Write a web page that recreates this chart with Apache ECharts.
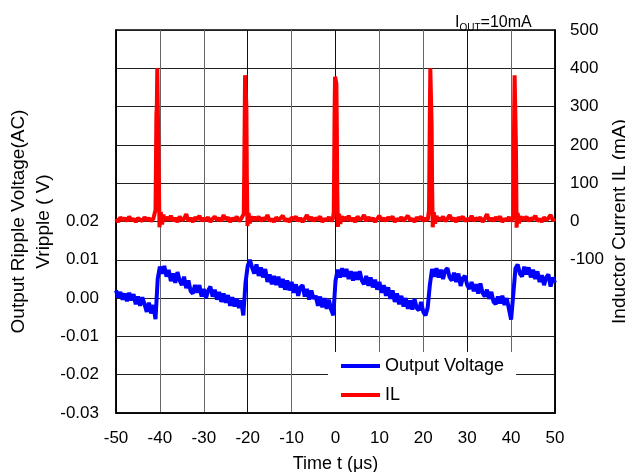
<!DOCTYPE html>
<html>
<head>
<meta charset="utf-8">
<script src="https://cdn.jsdelivr.net/npm/echarts@6/dist/echarts.min.js"></script>
<style>
  html, body { margin: 0; padding: 0; background: #fff; }
  #main { width: 625px; height: 472px; }
</style>
</head>
<body>
<div id="main"></div>
<script>
// time (µs), ripple voltage (V)
var vout = [
  [-50,0.0020],[-49.5,0.0002],[-49,0.0016],[-48.5,-0.0004],[-48,0.0012],[-47.5,-0.0008],[-47,0.0014],[-46.5,-0.0006],[-46,0.0010],[-45.5,-0.0016],
  [-45,0.0004],[-44.5,-0.0020],[-44,0.0002],[-43.5,-0.0016],[-43,-0.0036],[-42.5,-0.0012],[-42,-0.0040],[-41.5,-0.0018],[-41,-0.0055],[-40.5,0.0050],
  [-40,0.0082],[-39.5,0.0064],[-39,0.0084],[-38.5,0.0056],[-38,0.0074],[-37.5,0.0044],[-37,0.0064],[-36.5,0.0040],[-36,0.0068],[-35.5,0.0046],
  [-35,0.0034],[-34.5,0.0056],[-34,0.0026],[-33.5,0.0046],[-33,0.0018],[-32.5,0.0012],[-32,0.0034],[-31.5,0.0014],[-31,0.0034],[-30.5,0.0004],
  [-30,0.0024],[-29.5,0.0000],[-29,0.0020],[-28.5,0.0030],[-28,0.0004],[-27.5,0.0022],[-27,-0.0004],[-26.5,0.0016],[-26,-0.0010],[-25.5,0.0012],
  [-25,-0.0012],[-24.5,0.0008],[-24,-0.0020],[-23.5,0.0002],[-23,-0.0022],[-22.5,-0.0002],[-22,-0.0026],[-21.5,-0.0006],[-21,-0.0045],[-20.5,0.0040],
  [-20,0.0084],[-19.5,0.0100],[-19,0.0080],[-18.5,0.0064],[-18,0.0088],[-17.5,0.0058],[-17,0.0080],[-16.5,0.0054],[-16,0.0076],[-15.5,0.0042],
  [-15,0.0062],[-14.5,0.0036],[-14,0.0058],[-13.5,0.0034],[-13,0.0056],[-12.5,0.0028],[-12,0.0050],[-11.5,0.0022],[-11,0.0046],[-10.5,0.0020],
  [-10,0.0042],[-9.5,0.0014],[-9,0.0036],[-8.5,0.0006],[-8,0.0028],[-7.5,0.0034],[-7,0.0004],[-6.5,0.0024],[-6,-0.0004],[-5.5,0.0020],
  [-5,-0.0002],[-4.5,0.0006],[-4,-0.0020],[-3.5,0.0004],[-3,-0.0024],[-2.5,0.0000],[-2,-0.0028],[-1.5,-0.0004],[-1,-0.0030],[-0.5,-0.0045],
  [0,0.0045],[0.5,0.0074],[1,0.0054],[1.5,0.0078],[2,0.0056],[2.5,0.0076],[3,0.0050],[3.5,0.0070],[4,0.0046],[4.5,0.0068],
  [5,0.0048],[5.5,0.0070],[6,0.0046],[6.5,0.0036],[7,0.0058],[7.5,0.0032],[8,0.0054],[8.5,0.0028],[9,0.0048],[9.5,0.0022],
  [10,0.0042],[10.5,0.0014],[11,0.0034],[11.5,0.0006],[12,0.0028],[12.5,-0.0002],[13,0.0020],[13.5,-0.0010],[14,0.0012],[14.5,-0.0016],
  [15,0.0006],[15.5,-0.0022],[16,0.0000],[16.5,-0.0028],[17,-0.0006],[17.5,-0.0030],[18,-0.0002],[18.5,-0.0026],[19,-0.0032],[19.5,-0.0010],
  [20,-0.0036],[20.5,-0.0045],[21,-0.0025],[21.5,0.0035],[22,0.0076],[22.5,0.0056],[23,0.0078],[23.5,0.0054],[24,0.0074],[24.5,0.0050],
  [25,0.0072],[25.5,0.0078],[26,0.0054],[26.5,0.0046],[27,0.0066],[27.5,0.0042],[28,0.0064],[28.5,0.0032],[29,0.0052],[29.5,0.0058],
  [30,0.0034],[30.5,0.0024],[31,0.0042],[31.5,0.0018],[32,0.0036],[32.5,0.0012],[33,0.0038],[33.5,0.0014],[34,0.0004],[34.5,0.0022],
  [35,-0.0002],[35.5,0.0016],[36,-0.0010],[36.5,-0.0016],[37,0.0004],[37.5,-0.0014],[38,0.0006],[38.5,-0.0018],[39,0.0000],[39.5,-0.0028],
  [40,-0.0056],[40.5,0.0010],[41,0.0078],[41.5,0.0088],[42,0.0064],[42.5,0.0056],[43,0.0082],[43.5,0.0062],[44,0.0080],[44.5,0.0054],
  [45,0.0074],[45.5,0.0050],[46,0.0070],[46.5,0.0042],[47,0.0060],[47.5,0.0034],[48,0.0054],[48.5,0.0062],[49,0.0030],[49.5,0.0054],
  [50,0.0040]
];

// time (µs), inductor current (mA)
var il = [
  [-50,7],[-49.5,-1],[-49,11],[-48.5,3],[-48,9],[-47.5,1],[-47,13],[-46.5,3],[-46,7],[-45.5,-1],[-45,9],[-44.5,5],[-44,1],[-43.5,11],[-43,3],[-42.5,9],[-42,1],[-41.5,7],[-41.2,11],
  [-41.0,30],[-40.9,150],[-40.8,280],[-40.7,300],[-40.6,400],[-40.5,395],[-40.3,160],[-40.1,-15],[-39.8,25],[-39.5,-8],[-39.2,18],[-39,2],
  [-38.5,11],[-38,3],[-37.5,15],[-37,1],[-36.5,9],[-36,-1],[-35.5,13],[-35,3],[-34.5,7],[-34,19],[-33.5,1],[-33,9],[-32.5,-1],[-32,11],[-31.5,5],[-31,15],[-30.5,1],[-30,9],
  [-29.5,3],[-29,11],[-28.5,-1],[-28,7],[-27.5,13],[-27,3],[-26.5,9],[-26,1],[-25.5,17],[-25,5],[-24.5,11],[-24,-1],[-23.5,9],[-23,3],[-22.5,13],[-22,1],[-21.5,7],[-21.1,5],
  [-20.9,20],[-20.8,120],[-20.7,250],[-20.6,382],[-20.45,380],[-20.3,300],[-20.2,120],[-20.05,-12],[-19.8,22],[-19.5,-5],[-19.2,14],[-19,3],
  [-18.5,11],[-18,3],[-17.5,13],[-17,1],[-16.5,9],[-16,5],[-15.5,17],[-15,1],[-14.5,7],[-14,-1],[-13.5,11],[-13,3],[-12.5,9],[-12,15],[-11.5,1],[-11,7],[-10.5,-1],[-10,11],
  [-9.5,5],[-9,13],[-8.5,1],[-8,9],[-7.5,-1],[-7,7],[-6.5,17],[-6,3],[-5.5,11],[-5,1],[-4.5,9],[-4,5],[-3.5,13],[-3,-1],[-2.5,7],[-2,3],[-1.5,11],[-1,1],[-0.6,7],
  [-0.4,25],[-0.3,150],[-0.2,300],[-0.1,378],[0.05,375],[0.2,360],[0.3,250],[0.4,80],[0.55,-14],[0.8,20],[1.1,-6],[1.4,14],[1.7,2],
  [2,11],[2.5,3],[3,15],[3.5,1],[4,9],[4.5,-1],[5,13],[5.5,5],[6,7],[6.5,17],[7,1],[7.5,11],[8,3],[8.5,9],[9,-1],[9.5,7],[10,15],[10.5,3],[11,9],[11.5,1],
  [12,11],[12.5,5],[13,13],[13.5,-1],[14,7],[14.5,3],[15,11],[15.5,1],[16,9],[16.5,15],[17,3],[17.5,7],[18,-1],[18.5,11],[19,5],[19.5,13],[20,1],[20.5,9],[21,3],[21.2,7],
  [21.3,30],[21.4,160],[21.5,300],[21.6,400],[21.75,398],[21.9,250],[22.0,100],[22.15,-15],[22.4,24],[22.7,-6],[23.0,15],[23.3,3],
  [23.5,9],[24,3],[24.5,13],[25,1],[25.5,7],[26,17],[26.5,3],[27,9],[27.5,-1],[28,11],[28.5,5],[29,13],[29.5,1],[30,7],[30.5,3],[31,15],[31.5,1],[32,9],[32.5,5],
  [33,11],[33.5,-1],[34,7],[34.5,19],[35,3],[35.5,9],[36,1],[36.5,11],[37,5],[37.5,13],[38,-1],[38.5,7],[39,3],[39.5,11],[40,1],[40.4,7],
  [40.5,25],[40.6,140],[40.7,290],[40.8,382],[40.95,380],[41.1,200],[41.25,-16],[41.5,22],[41.8,-5],[42.1,14],[42.4,3],
  [42.5,11],[43,3],[43.5,13],[44,1],[44.5,9],[45,5],[45.5,15],[46,1],[46.5,7],[47,-1],[47.5,11],[48,3],[48.5,9],[49,17],[49.5,3],[50,7]
];

var seriesNames = ['Output Voltage', 'IL'];
var xRange = [-50, 50],
    vRange = [-0.03, 0.07],
    iRange = [-500, 500];

var chart = echarts.init(document.getElementById('main'));

var font = 'Liberation Sans, Arial, sans-serif';
var vGridColors = ['#111','#666','#666','#111','#666','#111','#666','#666','#111','#666','#111'];

var option = {
    animation: false,
    textStyle: { fontFamily: font },
    title: {
        text: '{a|I}{b|OUT}{a|=10mA}',
        left: 450,
        top: 8,
        textStyle: {
            fontWeight: 'normal',
            rich: {
                a: { fontSize: 16, color: '#000', fontFamily: font, fontWeight: 'normal' },
                b: { fontSize: 10, color: '#000', fontFamily: font, fontWeight: 'normal', verticalAlign: 'bottom', padding: [10, 0, 0, 0] }
            }
        }
    },
    grid: {
        left: 116,
        right: 70,
        top: 30,
        bottom: 59,
        outerBoundsMode: 'none',
        containLabel: false,
        show: true,
        borderColor: '#000',
        borderWidth: 1.5,
        backgroundColor: 'transparent'
    },
    legend: {
        data: seriesNames,
        orient: 'vertical',
        left: 328,
        top: 352,
        padding: [5, 12, 8, 13],
        backgroundColor: '#fff',
        itemWidth: 39,
        itemHeight: 4,
        itemGap: 11,
        icon: 'rect',
        textStyle: { fontSize: 18, color: '#000', fontFamily: font }
    },
    xAxis: {
        type: 'value',
        min: xRange[0],
        max: xRange[1],
        interval: 10,
        name: 'Time t (μs)',
        nameLocation: 'middle',
        nameGap: 42,
        nameMoveOverlap: false,
        nameTextStyle: { fontSize: 18, color: '#000' },
        axisLine: { show: true, onZero: false, lineStyle: { color: '#000', width: 1.5 } },
        axisTick: { show: false },
        axisLabel: { fontSize: 17, color: '#000', margin: 17 },
        splitLine: { show: true, lineStyle: { color: vGridColors, width: 1 } }
    },
    yAxis: [
        {
            type: 'value',
            min: vRange[0],
            max: vRange[1],
            interval: 0.01,
            name: 'Output Ripple Voltage(AC)\nVripple ( V)',
            nameLocation: 'middle',
            nameGap: 60,
            nameRotate: 90,
            nameMoveOverlap: false,
            nameTextStyle: { fontSize: 19, color: '#000', lineHeight: 25 },
            axisLine: { show: true, onZero: false, lineStyle: { color: '#000', width: 1.5 } },
            axisTick: { show: false },
            axisLabel: {
                fontSize: 17, color: '#000', margin: 17,
                formatter: function (v) {
                    if (v > 0.0201) return '';
                    if (Math.abs(v) < 1e-9) return '0.00';
                    return v.toFixed(2);
                }
            },
            splitLine: { show: true, lineStyle: { color: '#222', width: 1 } }
        },
        {
            type: 'value',
            min: iRange[0],
            max: iRange[1],
            interval: 100,
            position: 'right',
            name: 'Inductor Current IL (mA)',
            nameLocation: 'middle',
            nameGap: 55,
            nameRotate: 90,
            nameMoveOverlap: false,
            nameTextStyle: { fontSize: 19, color: '#000' },
            axisLine: { show: true, onZero: false, lineStyle: { color: '#000', width: 1.5 } },
            axisTick: { show: false },
            axisLabel: {
                fontSize: 17, color: '#000', margin: 15,
                formatter: function (v) { return v >= -100 ? String(v) : ''; }
            },
            splitLine: { show: false }
        }
    ],
    series: [
        {
            name: seriesNames[0],
            type: 'line',
            yAxisIndex: 0,
            data: vout,
            symbol: 'none',
            color: '#0000ff',
            lineStyle: { color: '#0000ff', width: 4 }
        },
        {
            name: seriesNames[1],
            type: 'line',
            yAxisIndex: 1,
            data: il,
            symbol: 'none',
            color: '#ff0000',
            lineStyle: { color: '#ff0000', width: 4 }
        }
    ]
};

chart.setOption(option);
</script>
</body>
</html>
